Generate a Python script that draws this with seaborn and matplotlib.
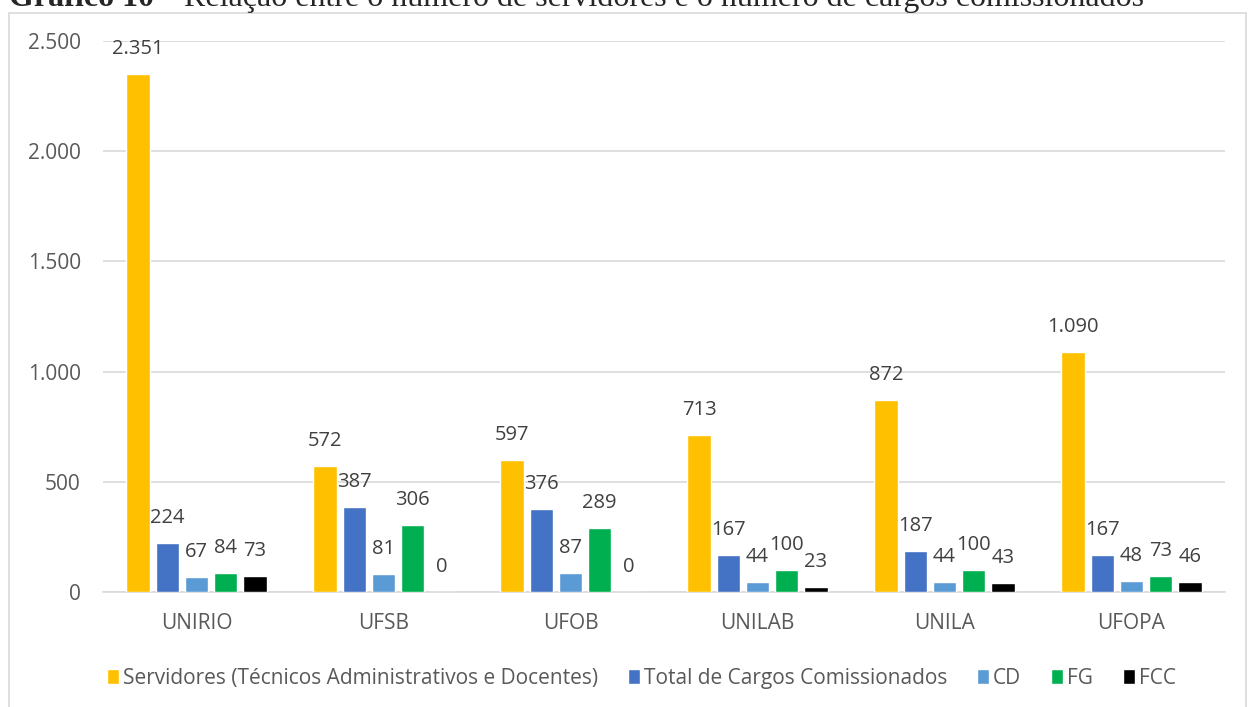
import matplotlib
matplotlib.use("Agg")
import matplotlib.pyplot as plt
import seaborn as sns
import pandas as pd
from matplotlib.patches import Rectangle
from matplotlib.ticker import FuncFormatter

categories = ["UNIRIO", "UFSB", "UFOB", "UNILAB", "UNILA", "UFOPA"]
series_names = ["Servidores (Técnicos Administrativos e Docentes)",
                "Total de Cargos Comissionados", "CD", "FG", "FCC"]
servidores = [2351, 572, 597, 713, 872, 1090]
total_cargos = [224, 387, 376, 167, 187, 167]
cd = [67, 81, 87, 44, 44, 48]
fg = [84, 306, 289, 100, 100, 73]
fcc = [73, 0, 0, 23, 43, 46]
yticks = [0, 500, 1000, 1500, 2000, 2500]
colors = ["#FFC000", "#4472C4", "#5B9BD5", "#00B050", "#000000"]

def fmt(v):
    return f"{int(v):,}".replace(",", ".")

rows = []
for name, vals in zip(series_names, [servidores, total_cargos, cd, fg, fcc]):
    for c, v in zip(categories, vals):
        rows.append({"cat": c, "serie": name, "valor": v})
df = pd.DataFrame(rows)

sns.set_theme(style="white")
plt.rcParams["font.family"] = ["Open Sans", "DejaVu Sans"]

FS = 15
fig = plt.figure(figsize=(12.48, 7.07), dpi=100)
ax = fig.add_axes([103/1248, 1-592/707, (1225-103)/1248, (592-41)/707])

sns.barplot(data=df, x="cat", y="valor", hue="serie", order=categories,
            hue_order=series_names, palette=colors, saturation=1,
            width=0.78, gap=0.2, ax=ax, legend=True, zorder=3)

ax.set_ylim(0, 2500)
ax.set_yticks(yticks)
ax.yaxis.set_major_formatter(FuncFormatter(lambda v, p: fmt(v)))
ax.grid(axis="y", color="#D9D9D9", lw=1.2, zorder=0)
ax.set_axisbelow(True)
for s in ["top", "right", "left"]:
    ax.spines[s].set_visible(False)
ax.spines["bottom"].set_color("#D9D9D9")
ax.spines["bottom"].set_linewidth(1.2)
ax.tick_params(axis="both", length=0, labelsize=FS, colors="#595959")
ax.tick_params(axis="y", pad=16)
ax.tick_params(axis="x", pad=15)
ax.set_xlabel("")
ax.set_ylabel("")

for cont in ax.containers:
    for bar in cont:
        h = bar.get_height()
        ax.annotate(fmt(h), (bar.get_x() + bar.get_width()/2, h),
                    xytext=(0, 25), textcoords="offset pixels",
                    ha="center", va="center", fontsize=14.5, color="#404040")

handles, labels = ax.get_legend_handles_labels()
ax.legend(handles, labels, loc="center", bbox_to_anchor=(0.48, -0.157),
          ncol=5, frameon=False, fontsize=FS, handlelength=0.55,
          handleheight=0.75, handletextpad=0.2, columnspacing=1.45,
          labelcolor="#595959")

fig.patches.append(Rectangle((9/1248, -0.01), 1237/1248, 1.01-13/707,
                             transform=fig.transFigure, fill=False,
                             edgecolor="#D9D9D9", lw=1.2))

t1 = fig.text(9/1248, 1-6/707, "Gráfico 10", fontfamily="Liberation Serif",
              fontweight="bold", fontsize=23, va="baseline", ha="left")
fig.canvas.draw()
bb = t1.get_window_extent()
fig.text((bb.x1 + 6)/1248, 1-6/707,
         "– Relação entre o número de servidores e o número de cargos comissionados",
         fontfamily="Liberation Serif", fontsize=23, va="baseline", ha="left")

fig.savefig("out.png", dpi=100)
